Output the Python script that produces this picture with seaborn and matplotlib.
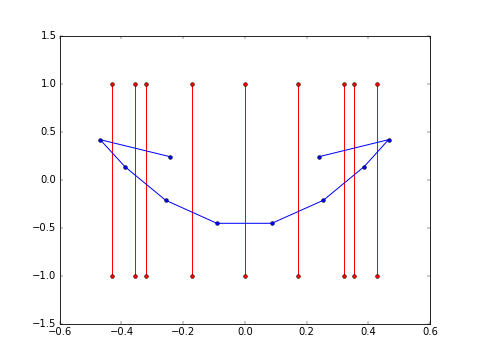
import matplotlib
matplotlib.use("Agg")
import matplotlib.pyplot as plt
import seaborn as sns
import pandas as pd

# red vertical segments (x positions, spanning y from -1 to 1)
red_x = [-0.43, -0.355, -0.322, -0.173, 0.0, 0.172, 0.32, 0.354, 0.428]
red_y_low = -1.0
red_y_high = 1.0

# blue path
blue_x = [-0.243, -0.469, -0.389, -0.257, -0.091, 0.087, 0.254, 0.386, 0.465, 0.240]
blue_y = [0.243, 0.420, 0.139, -0.211, -0.451, -0.451, -0.211, 0.139, 0.420, 0.243]

xticks = [-0.6, -0.4, -0.2, 0.0, 0.2, 0.4, 0.6]
yticks = [-1.5, -1.0, -0.5, 0.0, 0.5, 1.0, 1.5]

plt.style.use("classic")
plt.rcParams["figure.facecolor"] = "white"
plt.rcParams["savefig.facecolor"] = "white"

fig, ax = plt.subplots(figsize=(478 / 60, 6), dpi=60)

rows = []
for i, xv in enumerate(red_x):
    rows.append({"x": xv, "y": red_y_low, "u": i})
    rows.append({"x": xv, "y": red_y_high, "u": i})
red_df = pd.DataFrame(rows)

sns.lineplot(data=red_df, x="x", y="y", units="u", estimator=None, sort=False,
             color="red", marker="o", markersize=4.5, markeredgecolor="black",
             markeredgewidth=0.6, linewidth=1.2, ax=ax, legend=False)

blue_df = pd.DataFrame({"x": blue_x, "y": blue_y})
sns.lineplot(data=blue_df, x="x", y="y", sort=False, estimator=None,
             color="blue", marker="o", markersize=4.5, markeredgecolor="black",
             markeredgewidth=0.6, linewidth=1.2, ax=ax, legend=False)

ax.set_xlim(-0.6, 0.6)
ax.set_ylim(-1.5, 1.5)
ax.set_xticks(xticks)
ax.set_yticks(yticks)
ax.set_xlabel("")
ax.set_ylabel("")

fig.savefig("out.png", dpi=60)
